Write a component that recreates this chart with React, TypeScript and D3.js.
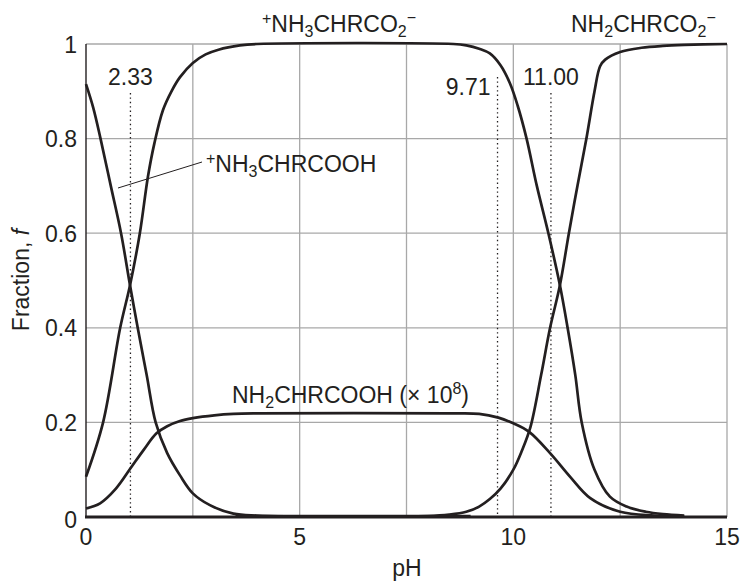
import React from "react";
import * as d3 from "d3";

// ---- data ----
const cationPH = [0, 0.17, 0.34, 0.58, 0.82, 1.03, 1.21, 1.42, 1.63, 1.9, 2.2, 2.5, 2.9, 3.45, 4, 5, 6, 7, 8, 9];
const cationF = [0.915, 0.865, 0.8, 0.7, 0.6, 0.49, 0.4, 0.3, 0.2, 0.135, 0.088, 0.05, 0.025, 0.007, 0.003, 0.002, 0.002, 0.002, 0.002, 0.002];

const zwPH = [0, 0.4, 0.8, 1.03, 1.26, 1.45, 1.6, 1.8, 2.0, 2.2, 2.5, 2.8, 3.1, 3.6, 4, 8.6, 8.9, 9.2, 9.45, 9.7, 9.92, 10.1, 10.31, 10.55, 10.82, 11.09, 11.27, 11.45, 11.6, 11.9, 12.26, 12.65, 13.1, 13.5, 14];
const zwF = [0.085, 0.2, 0.4, 0.49, 0.6, 0.72, 0.79, 0.86, 0.9, 0.93, 0.96, 0.978, 0.988, 0.997, 1, 1, 0.997, 0.99, 0.98, 0.955, 0.917, 0.87, 0.8, 0.7, 0.6, 0.49, 0.4, 0.3, 0.2, 0.1, 0.043, 0.022, 0.011, 0.006, 0.003];

const anionPH = [3.5, 8, 8.5, 8.9, 9.2, 9.45, 9.7, 10, 10.2, 10.4, 10.65, 10.86, 11.09, 11.3, 11.5, 11.71, 11.9, 12.03, 12.15, 12.5, 13, 13.5, 14, 15];
const anionF = [0.002, 0.002, 0.005, 0.011, 0.022, 0.038, 0.06, 0.1, 0.14, 0.19, 0.3, 0.4, 0.49, 0.6, 0.7, 0.8, 0.9, 0.953, 0.967, 0.983, 0.992, 0.996, 0.998, 1];

const neutralPH = [0, 0.33, 0.7, 1.05, 1.35, 1.65, 1.9, 2.2, 2.5, 3, 3.45, 4, 8.5, 9.2, 9.65, 10, 10.37, 10.88, 11.33, 11.8, 12.5, 13.3, 14];
const neutralF = [0.018, 0.029, 0.06, 0.104, 0.142, 0.177, 0.192, 0.203, 0.209, 0.215, 0.218, 0.219, 0.219, 0.218, 0.21, 0.198, 0.18, 0.133, 0.085, 0.04, 0.011, 0.003, 0.001];

const xTicks = [0, 5, 10, 15];
const yTicks = [0, 0.2, 0.4, 0.6, 0.8, 1];
const yTickLabels = ["0", "0.2", "0.4", "0.6", "0.8", "1"];
const xGrid = [2.5, 5, 7.5, 10, 12.5, 15];
const yGrid = [0.2, 0.4, 0.6, 0.8, 1];

const markerLabels = ["2.33", "9.71", "11.00"];
const markerPH = [1.04, 9.63, 10.88];

const INK = "#231f20";
const GRID = "#a8a8a8";
const FONT = "'Liberation Sans', Arial, Helvetica, sans-serif";

export default function App() {
  const W = 742, H = 581;
  const x = d3.scaleLinear().domain([0, 15]).range([86, 727]);
  const y = d3.scaleLinear().domain([0, 1]).range([517, 44]);
  const line = d3
    .line<[number, number]>()
    .x((d) => x(d[0]))
    .y((d) => y(d[1]))
    .curve(d3.curveCatmullRom.alpha(0.5));
  const zip = (a: number[], b: number[]) => a.map((v, i) => [v, b[i]] as [number, number]);
  const series = [
    zip(cationPH, cationF),
    zip(zwPH, zwF),
    zip(anionPH, anionF),
    zip(neutralPH, neutralF),
  ];
  const fs = 23;
  const sfs = 16;

  return (
    <svg
      width={W}
      height={H}
      style={{ position: "absolute", left: 0, top: 0, background: "#fff" }}
      fontFamily={FONT}
      fill={INK}
    >
      {/* grid */}
      {xGrid.map((v) => (
        <line key={"gx" + v} x1={x(v)} x2={x(v)} y1={y(0)} y2={y(1)} stroke={GRID} strokeWidth={1.3} />
      ))}
      {yGrid.map((v) => (
        <line key={"gy" + v} x1={x(0)} x2={x(15)} y1={y(v)} y2={y(v)} stroke={GRID} strokeWidth={1.3} />
      ))}
      {/* axes */}
      <line x1={x(0)} x2={x(0)} y1={y(0)} y2={y(1)} stroke={INK} strokeWidth={1.4} />
      <line x1={x(0) - 1} x2={x(15)} y1={y(0)} y2={y(0)} stroke={INK} strokeWidth={2.8} />

      {/* dotted markers */}
      {markerPH.map((v, i) => (
        <line
          key={"m" + i}
          x1={x(v)}
          x2={x(v)}
          y1={i === 1 ? 77 : 93}
          y2={y(0)}
          stroke={INK}
          strokeWidth={1.3}
          strokeDasharray="1.4,3"
        />
      ))}
      <text x={x(markerPH[0])} y={85} fontSize={fs} textAnchor="middle">{markerLabels[0]}</text>
      <text x={x(markerPH[1]) - 7} y={95} fontSize={fs} textAnchor="end">{markerLabels[1]}</text>
      <text x={x(markerPH[2])} y={85} fontSize={fs} textAnchor="middle">{markerLabels[2]}</text>

      {/* curves */}
      {series.map((s, i) => (
        <path key={"c" + i} d={line(s) || ""} fill="none" stroke={INK} strokeWidth={2.7} strokeLinejoin="round" />
      ))}

      {/* ticks */}
      {xTicks.map((v) => (
        <text key={"xt" + v} x={x(v)} y={545} fontSize={fs} textAnchor="middle">{v}</text>
      ))}
      {yTicks.map((v, i) => (
        <text key={"yt" + v} x={77} y={y(v) + (v === 0 ? 11 : 8.5)} fontSize={fs} textAnchor="end">
          {yTickLabels[i]}
        </text>
      ))}

      {/* axis titles */}
      <text x={407} y={576} fontSize={fs} textAnchor="middle">pH</text>
      <text transform="translate(29,280) rotate(-90)" fontSize={fs} textAnchor="middle">
        Fraction, <tspan fontStyle="italic">f</tspan>
      </text>

      {/* species labels */}
      <text x={262} y={32} fontSize={fs}>
        <tspan fontSize={sfs} dy={-8}>+</tspan>
        <tspan dy={8}>NH</tspan>
        <tspan fontSize={sfs} dy={5}>3</tspan>
        <tspan dy={-5}>CHRCO</tspan>
        <tspan fontSize={sfs} dy={5}>2</tspan>
        <tspan fontSize={sfs} dy={-14}>−</tspan>
      </text>
      <text x={571} y={32} fontSize={fs}>
        <tspan>NH</tspan>
        <tspan fontSize={sfs} dy={5}>2</tspan>
        <tspan dy={-5}>CHRCO</tspan>
        <tspan fontSize={sfs} dy={5}>2</tspan>
        <tspan fontSize={sfs} dy={-14}>−</tspan>
      </text>
      <text x={206} y={172} fontSize={fs}>
        <tspan fontSize={sfs} dy={-8}>+</tspan>
        <tspan dy={8}>NH</tspan>
        <tspan fontSize={sfs} dy={5}>3</tspan>
        <tspan dy={-5}>CHRCOOH</tspan>
      </text>
      <line x1={118} y1={188} x2={202} y2={162} stroke={INK} strokeWidth={1} />
      <text x={232} y={403} fontSize={fs}>
        <tspan>NH</tspan>
        <tspan fontSize={sfs} dy={5}>2</tspan>
        <tspan dy={-5}>CHRCOOH (× 10</tspan>
        <tspan fontSize={sfs} dy={-9}>8</tspan>
        <tspan dy={9}>)</tspan>
      </text>
    </svg>
  );
}
